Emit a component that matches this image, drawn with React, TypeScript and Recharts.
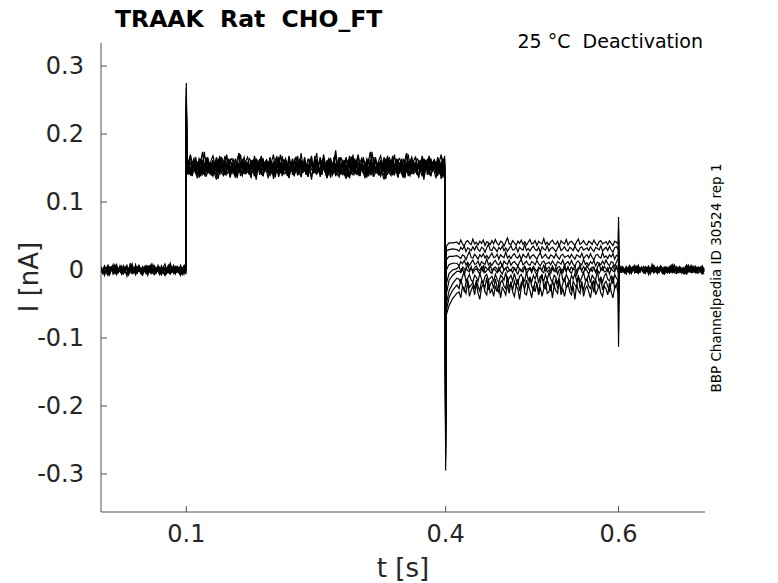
import React from "react"
import { LineChart, Line, XAxis, YAxis } from "recharts"

// sweep-by-sweep levels (nA), read from the recording
const baselineLevel = [0.001, -0.002, 0.0, -0.001, 0.002, -0.003, 0.0, -0.001, 0.001]
const onsetPeak = [0.275, 0.268, 0.26, 0.255, 0.25, 0.245, 0.24, 0.235, 0.23]
const plateauLevel = [0.158, 0.154, 0.15, 0.148, 0.145, 0.152, 0.146, 0.156, 0.149]
const offsetPeak = [-0.295, -0.28, -0.27, -0.26, -0.25, -0.24, -0.23, -0.22, -0.21]
const tailOnsetTimes = [0.4008, 0.404, 0.408, 0.413]
const tailOnset = [
  [0.035, 0.04, 0.04, 0.041],
  [0.028, 0.03, 0.031, 0.03],
  [0.015, 0.02, 0.02, 0.021],
  [0.0, 0.008, 0.01, 0.01],
  [-0.02, -0.005, 0.0, 0.002],
  [-0.035, -0.015, -0.008, -0.002],
  [-0.05, -0.03, -0.02, -0.012],
  [-0.06, -0.04, -0.03, -0.022],
  [-0.066, -0.052, -0.042, -0.034],
]
const tailLevel = [0.04, 0.031, 0.02, 0.01, 0.002, -0.001, -0.012, -0.022, -0.03]
const tailNoise = [0.8, 0.8, 0.8, 0.8, 0.8, 1, 1.4, 1.8, 2.2]
const endPeak = [0.078, 0.06, 0.045, 0.03, 0.015, -0.03, -0.06, -0.09, -0.113]
const postLevel = [0.001, -0.001, 0.0, 0.002, -0.002, 0.0, 0.001, -0.001, 0.0]

// recording noise, thousandths of nA
const jitter = [
  2, -3, 4, -1, -5, 3, 1, -2, 6, -4, 0, 3, -3, 5, -2, -6, 2, 4, -1, -3, 7, -2, 1, -4, 3, -1, 5, -5, 2, 0,
  -3, 4, -2, 6, -1, -4, 3, 1, -6, 2, 9, -2, -3, 4, 0, -5, 3, -1, 5, -3, 2, -4, 1, 6, -2, -1, 4, -5, 3, 0,
  -2, 8, -3, 1, -4, 2, 5, -1, -3, 3, -6, 4, 0, -2, 6, -4, 1, 3, -1, -5, 2, 7, -3, 0, 4, -2, -4, 3, 1, -3,
  5, -1, -5, 2, 4, -2, 0,
]

const yTicks = [-0.3, -0.2, -0.1, 0, 0.1, 0.2, 0.3]
const xTicks = [0.1, 0.4, 0.6]
const sweeps = baselineLevel.map((_, k) => `s${k}`)

const FONT = "DejaVu Sans, sans-serif"
const INK = "#262626"

function grid(from: number, to: number, step: number) {
  const out: number[] = []
  for (let t = from; t <= to + 1e-9; t += step) out.push(+t.toFixed(5))
  return out
}

function buildRows() {
  const rows: Record<string, number>[] = []
  let n = 0
  const push = (t: number, val: (k: number, j: number) => number) => {
    const row: Record<string, number> = { t }
    sweeps.forEach((key, k) => {
      row[key] = val(k, jitter[(n + k * 11) % jitter.length] / 1000)
    })
    rows.push(row)
    n++
  }
  grid(0.0013, 0.0995, 0.002).forEach((t) => push(t, (k, j) => baselineLevel[k] + j))
  push(0.1, (k) => onsetPeak[k])
  grid(0.1008, 0.3995, 0.002).forEach((t) => push(t, (k, j) => plateauLevel[k] + j * 2))
  push(0.4, (k) => offsetPeak[k])
  tailOnsetTimes.forEach((t, i) => push(t, (k) => tailOnset[k][i]))
  grid(0.4155, 0.5995, 0.002).forEach((t) => push(t, (k, j) => tailLevel[k] + j * tailNoise[k]))
  push(0.6, (k) => endPeak[k])
  grid(0.6008, 0.7, 0.002).forEach((t) => push(t, (k, j) => postLevel[k] + j * 0.8))
  return rows
}

const rows = buildRows()

const fmt = (v: number) => (v === 0 ? "0" : String(v))

function YTick(props: any) {
  const { x, y, payload } = props
  return (
    <g>
      <line x1={x} x2={x + 6} y1={y} y2={y} stroke={INK} strokeWidth={0.8} />
      <text x={x - 17} y={y} textAnchor="end" dominantBaseline="central" fontSize={24} fontFamily={FONT} fill={INK}>
        {fmt(payload.value)}
      </text>
    </g>
  )
}

function XTick(props: any) {
  const { x, y, payload } = props
  return (
    <g>
      <line x1={x} x2={x} y1={y} y2={y - 6} stroke={INK} strokeWidth={0.8} />
      <text x={x} y={y + 30} textAnchor="middle" fontSize={24} fontFamily={FONT} fill={INK}>
        {fmt(payload.value)}
      </text>
    </g>
  )
}

export default function App() {
  return (
    <div style={{ position: "absolute", left: 0, top: 0, width: 778, height: 583, background: "#fff" }}>
      <LineChart width={778} height={583} data={rows} margin={{ top: 43, right: 73, bottom: 31, left: 41 }}>
        <XAxis
          dataKey="t"
          type="number"
          domain={[0.0013, 0.7]}
          ticks={xTicks}
          allowDataOverflow
          height={40}
          tickSize={0}
          tickMargin={0}
          tickLine={false}
          stroke={INK}
          strokeWidth={0.8}
          tick={XTick}
        />
        <YAxis
          type="number"
          domain={[-0.356, 0.334]}
          ticks={yTicks}
          allowDataOverflow
          width={60}
          tickSize={0}
          tickMargin={0}
          tickLine={false}
          stroke={INK}
          strokeWidth={0.8}
          tick={YTick}
        />
        {sweeps.map((key) => (
          <Line
            key={key}
            dataKey={key}
            type="linear"
            stroke="#000"
            strokeWidth={1.2}
            dot={false}
            isAnimationActive={false}
          />
        ))}
      </LineChart>
      <svg width={778} height={583} style={{ position: "absolute", left: 0, top: 0, pointerEvents: "none" }}>
        <text x={115} y={27} fontSize={23.5} fontWeight="bold" fontFamily={FONT} fill="#000" style={{ whiteSpace: "pre" }}>
          {"TRAAK  Rat  CHO_FT"}
        </text>
        <text x={703} y={48} textAnchor="end" fontSize={19} fontFamily={FONT} fill="#000" style={{ whiteSpace: "pre" }}>
          {"25 °C  Deactivation"}
        </text>
        <text
          x={0}
          y={0}
          transform="translate(721 278) rotate(-90)"
          textAnchor="middle"
          fontSize={13.5}
          fontFamily={FONT}
          fill="#000"
        >
          BBP Channelpedia ID 30524 rep 1
        </text>
        <text
          x={0}
          y={0}
          transform="translate(38 277) rotate(-90)"
          textAnchor="middle"
          fontSize={26}
          fontFamily={FONT}
          fill={INK}
        >
          I [nA]
        </text>
        <text x={403} y={577} textAnchor="middle" fontSize={26} fontFamily={FONT} fill={INK}>
          t [s]
        </text>
      </svg>
    </div>
  )
}
